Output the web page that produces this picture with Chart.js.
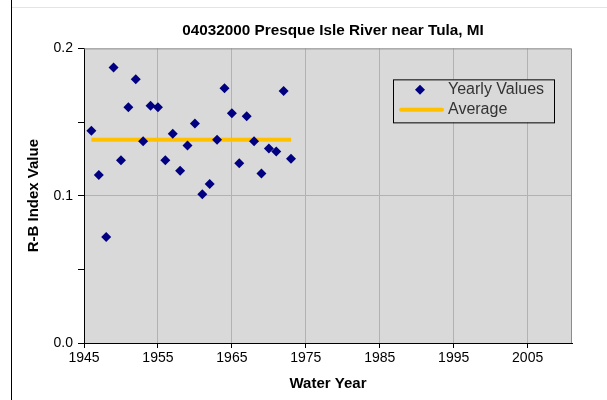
<!DOCTYPE html>
<html>
<head>
<meta charset="utf-8">
<script src="https://cdn.jsdelivr.net/npm/chart.js@4.4.1/dist/chart.umd.min.js"></script>
<style>
  html, body { margin: 0; padding: 0; background: #fff; }
  #wrap { position: relative; width: 607px; height: 400px; }
  #wrap canvas { position: absolute; left: 0; top: 0; }
  .edge-left { position: absolute; left: 11px; top: 0; width: 1px; height: 400px; background: #000; }
  .edge-top { position: absolute; left: 12px; top: 7px; width: 595px; height: 1px; background: #e4e4e4; }
</style>
</head>
<body>
<div id="wrap">
  <canvas id="chart" width="607" height="400"></canvas>
  <div class="edge-left"></div>
  <div class="edge-top"></div>
</div>
<script>
const years = [1946, 1947, 1948, 1949, 1950, 1951, 1952, 1953, 1954, 1955,
               1956, 1957, 1958, 1959, 1960, 1961, 1962, 1963, 1964, 1965,
               1966, 1967, 1968, 1969, 1970, 1971, 1972, 1973];
const rbValues = [0.144, 0.114, 0.072, 0.187, 0.124, 0.160, 0.179, 0.137, 0.161, 0.160,
                  0.124, 0.142, 0.117, 0.134, 0.149, 0.101, 0.108, 0.138, 0.173, 0.156,
                  0.122, 0.154, 0.137, 0.115, 0.132, 0.130, 0.171, 0.125];
const avgYears = [1946, 1973];
const avgValues = [0.138, 0.138];
const xTicks = [1945, 1955, 1965, 1975, 1985, 1995, 2005];
const yTicks = [0.0, 0.05, 0.1, 0.15, 0.2];
const yLabels = ["0.0", "", "0.1", "", "0.2"];

const PLOT_BG = '#d9d9d9';
const GRID = '#b2b2b2';
const FONT = 'Liberation Sans, Arial, sans-serif';

// plot background + grey top/right frame, and the in-plot legend
const plotFrame = {
  id: 'plotFrame',
  afterLayout(chart) {
    // title sits a little right of the plot centre in the original
    if (chart.titleBlock) { chart.titleBlock.left += 5; chart.titleBlock.right += 5; }
  },
  beforeDraw(chart) {
    const { ctx, chartArea: a } = chart;
    ctx.save();
    ctx.fillStyle = PLOT_BG;
    ctx.fillRect(a.left, a.top, a.right - a.left, a.bottom - a.top);
    ctx.restore();
  },
  beforeDatasetsDraw(chart) {
    const { ctx, chartArea: a } = chart;
    ctx.save();
    ctx.strokeStyle = '#8c8c8c';
    ctx.lineWidth = 1;
    ctx.beginPath();
    ctx.moveTo(a.left, a.top + 0.5);
    ctx.lineTo(a.right - 0.5, a.top + 0.5);
    ctx.lineTo(a.right - 0.5, a.bottom);
    ctx.stroke();
    ctx.restore();
  },
  afterDraw(chart) {
    const { ctx, chartArea: a } = chart;
    const x = a.left + 309, y = a.top + 31, w = 161, h = 43;
    ctx.save();
    ctx.fillStyle = PLOT_BG;
    ctx.fillRect(x, y, w, h);
    ctx.strokeStyle = '#000';
    ctx.lineWidth = 1;
    ctx.strokeRect(x + 0.5, y + 0.5, w, h);

    // diamond marker
    const mx = x + 27, my = y + 10.5;
    ctx.fillStyle = '#000080';
    ctx.beginPath();
    ctx.moveTo(mx, my - 5);
    ctx.lineTo(mx + 5, my);
    ctx.lineTo(mx, my + 5);
    ctx.lineTo(mx - 5, my);
    ctx.closePath();
    ctx.fill();

    // average line sample
    ctx.strokeStyle = '#ffc000';
    ctx.lineWidth = 4;
    ctx.lineCap = 'round';
    ctx.beginPath();
    ctx.moveTo(x + 8, y + 30.5);
    ctx.lineTo(x + 49, y + 30.5);
    ctx.stroke();

    ctx.fillStyle = '#333';
    ctx.font = '16px ' + FONT;
    ctx.textBaseline = 'middle';
    ctx.fillText('Yearly Values', x + 55, my);
    ctx.fillText('Average', x + 55, y + 30.5);
    ctx.restore();
  }
};

new Chart(document.getElementById('chart').getContext('2d'), {
  type: 'scatter',
  data: {
    datasets: [{
      label: 'Yearly Values',
      data: years.map((yr, i) => ({ x: yr, y: rbValues[i] })),
      pointStyle: 'rectRot',
      pointRadius: 5,
      pointBackgroundColor: '#000080',
      pointBorderColor: '#000080',
      pointBorderWidth: 0,
      showLine: false
    }, {
      type: 'line',
      label: 'Average',
      data: avgYears.map((yr, i) => ({ x: yr, y: avgValues[i] })),
      borderColor: '#ffc000',
      borderWidth: 4,
      pointRadius: 0,
      fill: false
    }]
  },
  options: {
    responsive: false,
    animation: false,
    events: [],
    layout: { padding: { left: 0, right: 35, top: 0, bottom: 0 } },
    plugins: {
      legend: { display: false },
      tooltip: { enabled: false },
      title: {
        display: true,
        fullSize: false,
        text: '04032000 Presque Isle River near Tula, MI',
        color: '#000',
        font: { family: FONT, size: 15.3, weight: 'bold' },
        padding: { top: 22, bottom: 8 }
      }
    },
    scales: {
      x: {
        type: 'linear',
        min: 1945,
        max: 2011,
        afterBuildTicks: s => { s.ticks = xTicks.map(v => ({ value: v })); },
        afterFit: s => { s.height = 57; },
        ticks: {
          color: '#000',
          font: { family: FONT, size: 14 },
          padding: 2,
          maxRotation: 0,
          callback: v => String(v)
        },
        grid: { color: GRID, tickColor: '#000', tickLength: 5 },
        border: { color: '#000', width: 1 },
        title: {
          display: true,
          text: 'Water Year',
          color: '#000',
          font: { family: FONT, size: 15, weight: 'bold' },
          padding: { top: 0, bottom: 7 }
        }
      },
      y: {
        min: 0,
        max: 0.2,
        afterBuildTicks: s => { s.ticks = yTicks.map(v => ({ value: v })); },
        afterFit: s => { s.width = 84; },
        ticks: {
          color: '#000',
          font: { family: FONT, size: 14 },
          padding: 5,
          callback: (v, i) => yLabels[i]
        },
        grid: {
          color: c => (c.tick && Math.abs(c.tick.value - 0.1) < 1e-6) ? GRID : 'rgba(0,0,0,0)',
          tickColor: '#000',
          tickLength: 6
        },
        border: { color: '#000', width: 1 },
        title: {
          display: true,
          text: 'R-B Index Value',
          color: '#000',
          font: { family: FONT, size: 15, weight: 'bold' },
          padding: { top: 25, bottom: 0 }
        }
      }
    }
  },
  plugins: [plotFrame]
});
</script>
</body>
</html>
